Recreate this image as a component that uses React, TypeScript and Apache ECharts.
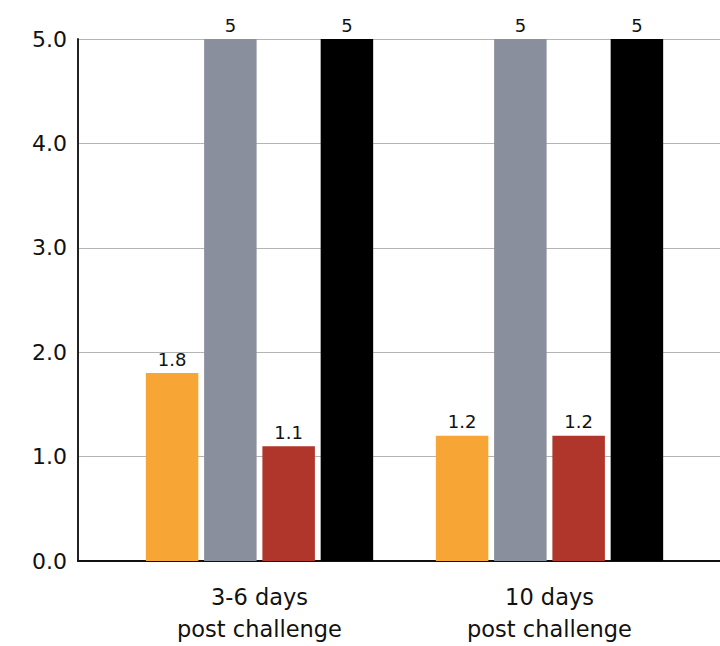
import React, { useEffect, useRef } from "react";
import * as echarts from "echarts";

const categories = ["3-6 days\npost challenge", "10 days\npost challenge"];
const seriesNames = ["Series 1", "Series 2", "Series 3", "Series 4"];
const seriesColors = ["#F7A535", "#8A8F9D", "#B0352A", "#000000"];
const series1 = [1.8, 1.2];
const series2 = [5, 5];
const series3 = [1.1, 1.2];
const series4 = [5, 5];
const yMin = 0;
const yMax = 5;
const yInterval = 1;

const FONT = "DejaVu Sans";

export default function App() {
  const ref = useRef<HTMLDivElement>(null);
  useEffect(() => {
    if (!ref.current) return;
    const chart = echarts.init(ref.current, null, { renderer: "svg" });
    const values = [series1, series2, series3, series4];
    chart.setOption({
      animation: false,
      backgroundColor: "#ffffff",
      grid: [
        { left: 78, top: 39, bottom: 85, width: 800, containLabel: false },
        { left: 114.5, top: 39, bottom: 85, width: 580, containLabel: false },
      ],
      xAxis: [
        {
          type: "value",
          gridIndex: 0,
          min: 0,
          max: 1,
          axisLine: { show: true, onZero: false, lineStyle: { color: "#111", width: 2 } },
          axisTick: { show: false },
          axisLabel: { show: false },
          splitLine: { show: false },
        },
        {
          type: "category",
          gridIndex: 1,
          data: categories,
          axisLine: { show: false },
          axisTick: { show: false },
          axisLabel: {
            margin: 20,
            fontFamily: FONT,
            fontSize: 22.5,
            lineHeight: 32,
            color: "#111",
          },
        },
      ],
      yAxis: [
        {
          type: "value",
          gridIndex: 0,
          min: yMin,
          max: yMax,
          interval: yInterval,
          axisLine: { show: true, lineStyle: { color: "#222", width: 2 } },
          axisTick: { show: false },
          axisLabel: {
            margin: 11,
            fontFamily: FONT,
            fontSize: 22,
            color: "#111",
            formatter: (v: number) => v.toFixed(1),
          },
          splitLine: { show: true, lineStyle: { color: "#b4b4b4", width: 1 } },
        },
        {
          type: "value",
          gridIndex: 1,
          min: yMin,
          max: yMax,
          interval: yInterval,
          show: false,
          splitLine: { show: false },
        },
      ],
      series: values.map((data, i) => ({
        name: seriesNames[i],
        type: "bar",
        xAxisIndex: 1,
        yAxisIndex: 1,
        data,
        barWidth: 52.5,
        barGap: "11%",
        itemStyle: { color: seriesColors[i] },
        label: {
          show: true,
          position: "top",
          distance: 5,
          fontFamily: FONT,
          fontSize: 18,
          color: "#111",
        },
      })),
    });
    return () => chart.dispose();
  }, []);
  return (
    <div
      ref={ref}
      style={{ position: "fixed", left: 0, top: 0, width: 720, height: 646 }}
    />
  );
}
